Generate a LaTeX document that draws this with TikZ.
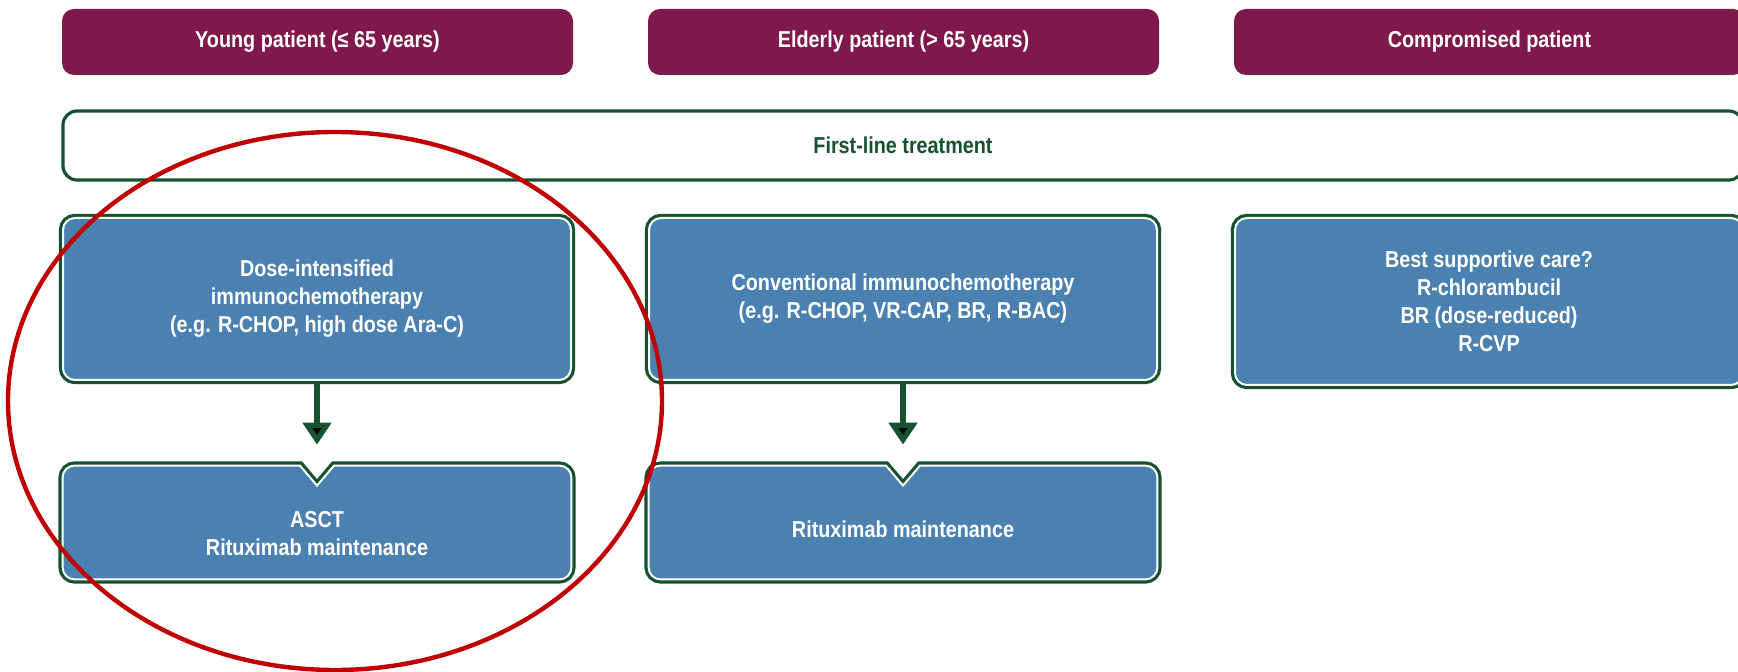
\documentclass[tikz,border=0pt]{standalone}
\usepackage{fontspec}
\setmainfont{Liberation Sans}[FakeStretch=0.86]
\usetikzlibrary{arrows.meta,backgrounds}
\definecolor{plum}{RGB}{127,25,76}
\definecolor{boxblue}{RGB}{74,129,176}
\definecolor{dgreen}{RGB}{22,82,48}
\definecolor{ringred}{RGB}{192,0,0}
\begin{document}
\begin{tikzpicture}[x=0.5pt,y=0.5pt,node distance=293pt,font=\bfseries\fontsize{11.5}{14}\selectfont,
    patient/.style={rectangle, rounded corners=6pt, fill=plum, text=white, minimum width=255.5pt, minimum height=33pt},
    firstline/.style={rectangle, rounded corners=7pt, draw=dgreen, line width=1.6pt, fill=white, text=dgreen, minimum width=840pt, minimum height=34.5pt},
    boxframe/.style={preaction={draw=dgreen, line width=4.2pt}, fill=boxblue, draw=white, line width=1pt},
    treat/.style={rectangle, boxframe, rounded corners=6pt, text=white, align=center, minimum width=254pt, minimum height=81pt},
    notched/.style={rectangle, text=white, align=center, minimum width=254pt, minimum height=56.5pt},
    flow/.style={-{Triangle[width=14pt,length=11pt]}, draw=dgreen, line width=2.6pt, shorten >=10.5pt},
    highlight/.style={draw=ringred, line width=2.2pt}]
    \useasboundingbox (0,0) rectangle (1738,-672);
    \clip (0,0) rectangle (1738,-672);

    \node[patient] (1) at (317.5,-42) {Young patient (≤ 65 years)};
    \node[patient] (2) [right of=1] {Elderly patient (> 65 years)};
    \node[patient] (3) [right of=2] {Compromised patient};

    \node[firstline] (4) at (903,-145.5) {First-line treatment};

    \node[treat] (5) at (317,-299) {Dose-intensified\\immunochemotherapy\\(e.g. R-CHOP, high dose Ara-C)};
    \node[treat] (6) [right of=5] {Conventional immunochemotherapy\\(e.g. R-CHOP, VR-CAP, BR, R-BAC)};
    \node[treat, minimum height=83.5pt] (7) [right of=6, yshift=-1.25pt] {Best supportive care?\\R-chlorambucil\\BR (dose-reduced)\\R-CVP};

    \node[notched] (8) at (317,-522.5) {\rule{0pt}{19pt}ASCT\\Rituximab maintenance};
    \node[notched] (9) [right of=8] {\rule{0pt}{15pt}Rituximab maintenance};

    % boxes with the notch on top
    \begin{scope}[on background layer]
        \foreach \n in {8,9}
            \path[boxframe] ([xshift=8.5pt]\n.north) [rounded corners=6pt] -- (\n.north east) -- (\n.south east) -- (\n.south west) -- (\n.north west) [sharp corners] -- ([xshift=-8.5pt]\n.north) -- ([yshift=-10pt]\n.north) -- cycle;
    \end{scope}

    \path[flow]
        (5) edge (8)
        (6) edge (9);

    \draw[highlight] (335,-401) ellipse [x radius=163.5pt, y radius=134.5pt];
\end{tikzpicture}
\end{document}
